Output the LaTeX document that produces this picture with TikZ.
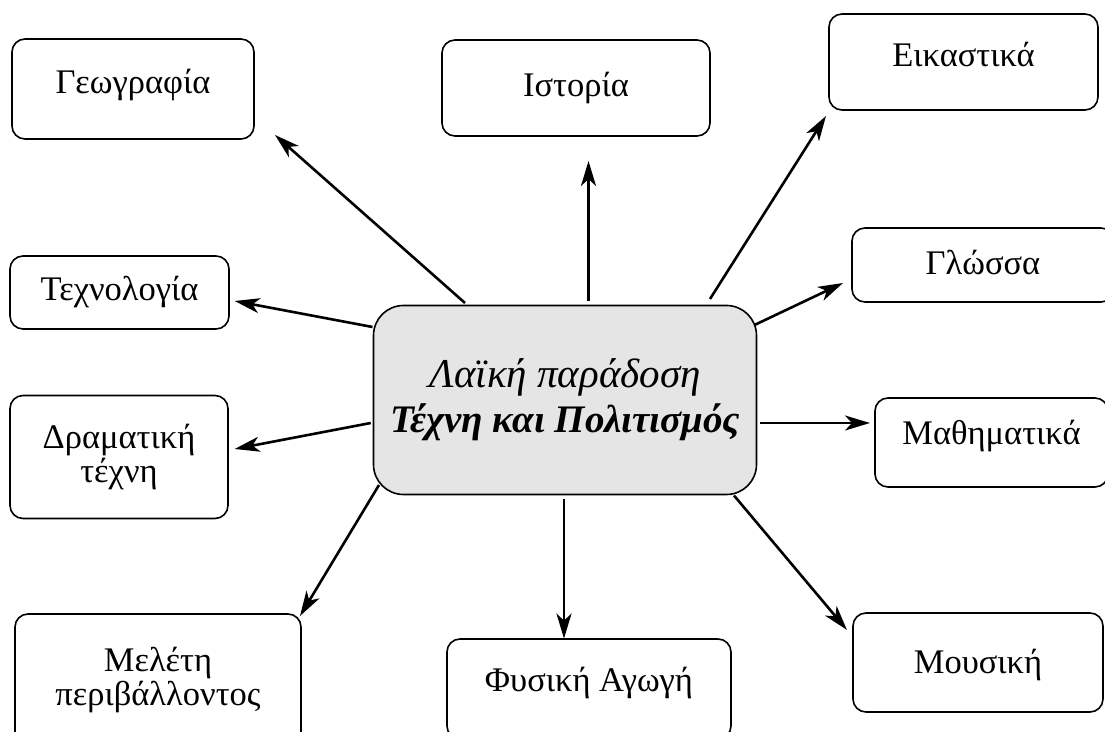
\documentclass[tikz,border=0pt]{standalone}
\usepackage{fontspec}
\setmainfont{Liberation Serif}
\usetikzlibrary{arrows.meta,positioning}

\tikzset{
  topic/.style={draw, line width=0.8pt, rounded corners=6.5pt, outer sep=0pt,
    font=\fontsize{17.25}{15.5}\selectfont},
  oneline/.style={text height=14pt, text depth=#1},
  oneline/.default=4.6pt,
  link/.style={line width=1.3pt, -{Stealth[length=12.5pt,width=7.5pt,inset=3.5pt]}}
}

\begin{document}
\begin{tikzpicture}[x=0.5pt, y=-0.5pt]

  \useasboundingbox (0,0) rectangle (1105,732);
  \clip (0,0) rectangle (1105,732);

  % The central box
  \node[draw, line width=0.8pt, fill=black!10, rounded corners=15pt, outer sep=0pt,
        minimum width=191.5pt, minimum height=94.5pt, align=center,
        font=\fontsize{19.5}{22.5}\selectfont] (ctr) at (565,400)
        {{\fontsize{20.5}{22.5}\selectfont\itshape Λαϊκή παράδοση}\\ \bfseries\itshape Τέχνη και Πολιτισμός};

  % The subjects round it
  \node[topic, oneline=9.6pt, minimum width=121pt, minimum height=50pt] (geo) at (133,89) {Γεωγραφία};
  \node[topic, oneline=5.6pt, minimum width=134pt, minimum height=48pt] (ist) at (576,88) {Ιστορία};
  \node[topic, oneline=9.6pt, minimum width=134.5pt, minimum height=48pt] (eik) at (963.5,62) {Εικαστικά};
  \node[topic, oneline=4.6pt, minimum width=131pt, minimum height=37pt] (glo) at (983,265) {Γλώσσα};
  \node[topic, oneline=5.6pt, minimum width=109.5pt, minimum height=36.5pt] (tec) at (119.5,292.5) {Τεχνολογία};
  \node[topic, align=center, minimum width=109pt, minimum height=61.5pt] (dra) at (119,457) {Δραματική\\τέχνη};
  \node[topic, oneline=12.1pt, minimum width=116.5pt, minimum height=44.5pt] (mat) at (991.5,442.5) {Μαθηματικά};
  \node[topic, align=center, minimum width=143pt, minimum height=66pt,
        font=\fontsize{17.25}{14}\selectfont] (met) at (158,680) {Μελέτη\\περιβάλλοντος};
  \node[topic, oneline=11.6pt, minimum width=142pt, minimum height=50pt] (fys) at (589,689) {Φυσική Αγωγή};
  \node[topic, oneline=2.6pt, minimum width=125pt, minimum height=49.5pt] (mou) at (978,662.5) {Μουσική};

  % Arrows from the centre
  \draw[link] ([shift={(-100,-2.5)}]ctr.north) -- ([shift={(21,-4)}]geo.south east);
  \draw[link] ([shift={(23.5,-4.5)}]ctr.north) -- ([shift={(12.5,25)}]ist.south);
  \draw[link] ([shift={(145,-6.5)}]ctr.north) -- ([shift={(-3,6)}]eik.south west);
  \draw[link] ([shift={(-2,19.5)}]ctr.north east) -- ([shift={(-9,18)}]glo.west);
  \draw[link] ([shift={(-1,21.5)}]ctr.north west) -- ([shift={(5.7,8.5)}]tec.east);
  \draw[link] ([shift={(-2.8,23)}]ctr.west) -- ([shift={(6.7,-8)}]dra.east);
  \draw[link] ([shift={(3.5,23)}]ctr.east) -- ([shift={(-5,-19.5)}]mat.west);
  \draw[link] ([shift={(5.5,-9.5)}]ctr.south west) -- ([shift={(-1,2)}]met.north east);
  \draw[link] ([shift={(-1,4.5)}]ctr.south) -- ([shift={(-25,-0.4)}]fys.north);
  \draw[link] ([shift={(-22.5,1)}]ctr.south east) -- ([shift={(-6,17)}]mou.north west);

\end{tikzpicture}
\end{document}
